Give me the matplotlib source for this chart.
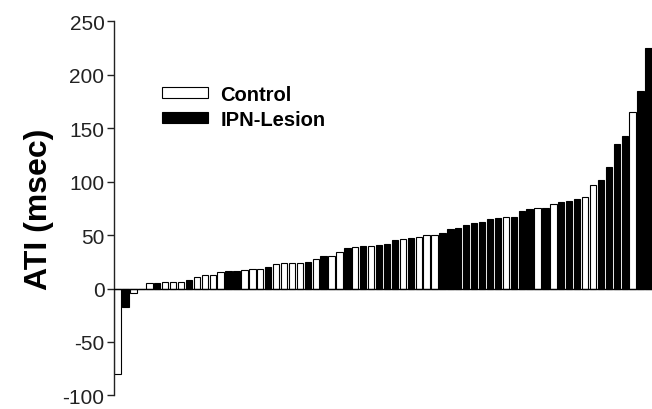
# ATI per animal, sorted, control vs IPN-lesion
import matplotlib
matplotlib.use('Agg')
import matplotlib.pyplot as plt
from matplotlib.patches import Patch

plt.rcParams['font.family'] = ['Liberation Sans', 'DejaVu Sans']
plt.rcParams['axes.unicode_minus'] = False

# group of each bar: C = Control, L = IPN-Lesion
groups = ['C', 'L', 'C', 'C', 'C', 'L', 'C', 'C', 'C', 'L',
          'C', 'C', 'C', 'C', 'L', 'L', 'C', 'C', 'C', 'L',
          'C', 'C', 'C', 'C', 'L', 'C', 'L', 'C', 'C', 'L',
          'C', 'L', 'C', 'L', 'L', 'L', 'C', 'L', 'C', 'C',
          'C', 'L', 'L', 'L', 'L', 'L', 'L', 'L', 'L', 'C',
          'L', 'L', 'L', 'C', 'L', 'C', 'L', 'L', 'L', 'C',
          'C', 'L', 'L', 'L', 'L', 'C', 'L', 'L']
ati = [-80, -17, -4, 0, 5, 5, 6, 6, 6, 8,
       11, 12.5, 12.5, 15, 16, 16, 17, 18, 18.5, 20,
       22.5, 23.5, 23.5, 24, 25, 27.5, 30, 30.5, 34.5, 37.5,
       38.5, 39.5, 40, 40.5, 42, 45, 46.5, 47.5, 48, 50,
       50.5, 51.5, 56, 56.5, 59.5, 61, 62, 65, 66, 67,
       67, 72.5, 74.5, 75, 75.5, 79, 81, 82, 83.5, 86,
       96.5, 101, 113.5, 135, 142.5, 165.5, 185, 225]
yticks = [-100, -50, 0, 50, 100, 150, 200, 250]

fig = plt.figure(figsize=(6.52, 4.10), dpi=100)
ax = fig.add_axes([0.175, 0.033, 0.825, 0.913])

x = list(range(len(ati)))
faces = ['white' if g == 'C' else 'black' for g in groups]
ax.bar(x, ati, width=0.8, color=faces, edgecolor='black', linewidth=0.8,
       zorder=2)
ax.axhline(0, color='black', linewidth=1.0, zorder=3)

ax.set_xlim(-0.45, len(ati) - 0.55)
ax.set_ylim(-100, 250)
ax.set_yticks(yticks)
ax.set_xticks([])
for s in ['top', 'right', 'bottom']:
    ax.spines[s].set_visible(False)
ax.spines['left'].set_linewidth(1.0)
ax.spines['left'].set_color('#222222')
ax.tick_params(axis='y', direction='out', length=5, width=1.0,
               labelsize=15, colors='#222222', pad=2)

ax.set_ylabel('ATI (msec)', fontsize=23, fontweight='bold', labelpad=6)

handles = [Patch(facecolor='white', edgecolor='black', linewidth=0.8),
           Patch(facecolor='black', edgecolor='black', linewidth=0.8)]
ax.legend(handles, ['Control', 'IPN-Lesion'], loc='upper left',
          bbox_to_anchor=(0.089, 0.83), frameon=False,
          prop={'weight': 'bold', 'size': 14.5},
          handlelength=2.3, handleheight=0.45, handletextpad=0.6,
          labelspacing=0.3, borderpad=0, borderaxespad=0)

plt.savefig('out.png', dpi=100)
